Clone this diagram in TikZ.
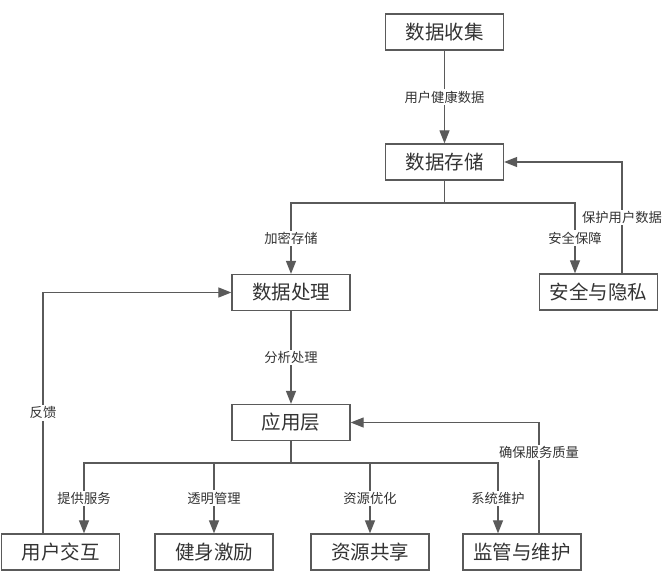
\documentclass[tikz,border=0pt]{standalone}
\usepackage{fontspec}
\setmainfont{Noto Sans CJK SC}
\usetikzlibrary{arrows.meta,calc}
\definecolor{linec}{HTML}{5A5A5A}
\definecolor{txtc}{HTML}{333333}
\begin{document}
\begin{tikzpicture}[x=1pt,y=-1pt,
  box/.style={draw=linec,line width=1.3pt,fill=white,minimum width=118pt,minimum height=36pt,inner sep=0pt,text=txtc,font=\fontsize{19.5}{21}\selectfont},
  conn/.style={draw=linec,line width=1.2pt},
  arr/.style={conn,-{Triangle[width=10pt,length=13pt]},shorten >=0pt},
  lbl/.style={fill=white,inner sep=1.5pt,text=txtc,font=\fontsize{13.3}{15}\selectfont}]
\useasboundingbox (0,0) rectangle (663,573);
\node[box] (collect) at (444.5,32) {数据收集};
\node[box] (store) at (444.5,162) {数据存储};
\node[box] (proc) at (291,292.5) {数据处理};
\node[box] (sec) at (598.5,292) {安全与隐私};
\node[box] (app) at (291,422.5) {应用层};
\node[box] (ui) at (60.5,552) {用户交互};
\node[box] (fit) at (214,552) {健身激励};
\node[box] (res) at (370,552) {资源共享};
\node[box] (sup) at (522,552) {监管与维护};
\coordinate (j1) at (444.5,203);
\coordinate (j2) at (291,463);
\coordinate (secin) at ([xshift=-23.5pt]sec.north);
\coordinate (secout) at ([xshift=23.5pt]sec.north);
\coordinate (uiin) at ([xshift=23.5pt]ui.north);
\coordinate (uiout) at ([xshift=-17.5pt]ui.north);
\coordinate (supin) at ([xshift=-24pt]sup.north);
\coordinate (supout) at ([xshift=17pt]sup.north);
\draw[arr] (collect.south) -- node[lbl]{用户健康数据} (store.north);
\draw[conn] (store.south) -- (j1);
\draw[arr] (j1) -| node[lbl,pos=0.75]{加密存储} (proc.north);
\draw[arr] (j1) -| node[lbl,pos=0.75]{安全保障} (secin);
\draw[arr] (secout) |- node[lbl,pos=0.25]{保护用户数据} (store.east);
\draw[arr] (proc.south) -- node[lbl]{分析处理} (app.north);
\draw[conn] (app.south) -- (j2);
\draw[arr] (j2) -| node[lbl,pos=0.75]{提供服务} (uiin);
\draw[arr] (j2) -| node[lbl,pos=0.75]{透明管理} (fit.north);
\draw[arr] (j2) -| node[lbl,pos=0.75]{资源优化} (res.north);
\draw[arr] (j2) -| node[lbl,pos=0.75]{系统维护} (supin);
\draw[arr] (uiout) |- node[lbl,pos=0.25]{反馈} (proc.west);
\draw[arr] (supout) |- node[lbl,pos=0.365]{确保服务质量} (app.east);
\end{tikzpicture}
\end{document}
